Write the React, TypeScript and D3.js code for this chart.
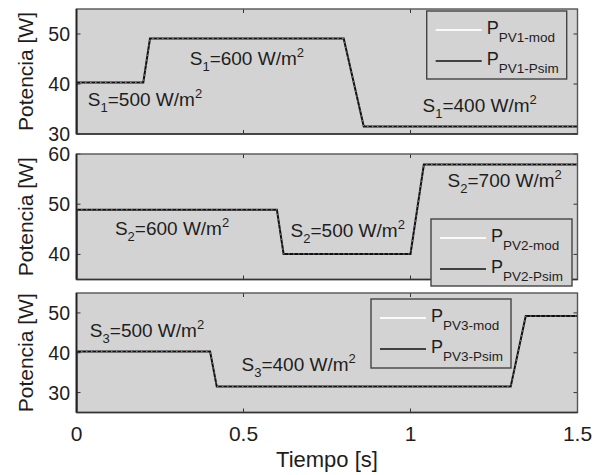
import React from "react";
import * as d3 from "d3";

// Time axis shared by the three panels
const timeDomain = [0, 1.5];
const timeTicks = [0, 0.5, 1, 1.5];
const timeTickLabels = ["0", "0.5", "1", "1.5"];

// PV1 power (W) vs time (s)
const pv1Time = [0, 0, 0.2, 0.22, 0.8, 0.86, 1.5];
const pv1Sim = [0, 40.3, 40.3, 49.1, 49.1, 31.5, 31.5];
const pv1Mod = [0, 40.3, 40.3, 49.1, 49.1, 31.5, 31.5];

// PV2 power (W) vs time (s)
const pv2Time = [0, 0, 0.6, 0.62, 1.0, 1.04, 1.5];
const pv2Sim = [0, 48.9, 48.9, 40.1, 40.1, 57.9, 57.9];
const pv2Mod = [0, 48.9, 48.9, 40.1, 40.1, 57.9, 57.9];

// PV3 power (W) vs time (s)
const pv3Time = [0, 0, 0.4, 0.42, 1.3, 1.345, 1.5];
const pv3Sim = [0, 40.3, 40.3, 31.5, 31.5, 49.2, 49.2];
const pv3Mod = [0, 40.3, 40.3, 31.5, 31.5, 49.2, 49.2];

const yDomains = [
  [30, 55],
  [35, 60],
  [25, 55],
];
const yTicks = [
  [30, 40, 50],
  [40, 50, 60],
  [30, 40, 50],
];

const legendIds = ["PV1", "PV2", "PV3"];
const irradianceName = ["1", "2", "3"];

// Irradiance annotations: [time, power, label value]
const notes1 = [
  [0.034, 35.6, "500"],
  [0.339, 43.8, "600"],
  [1.036, 34.5, "400"],
];
const notes2 = [
  [0.115, 43.9, "600"],
  [0.641, 43.5, "500"],
  [1.111, 53.5, "700"],
];
const notes3 = [
  [0.04, 44.0, "500"],
  [0.494, 35.3, "400"],
];

const W = 595;
const H = 475;
const left = 76.5;
const right = 577.5;
const panelRows = [
  [9, 134],
  [154, 279.5],
  [293, 412.5],
];
const legendBoxes = [
  [426.7, 11, 140, 68],
  [431, 219, 141, 67],
  [371, 299, 140, 69],
];

const FONT = "'Liberation Sans', Arial, Helvetica, sans-serif";
const BG = "#d3d3d3";
const INK = "#1e1e1e";

const seriesSets = [
  { t: pv1Time, sim: pv1Sim, mod: pv1Mod, notes: notes1 },
  { t: pv2Time, sim: pv2Sim, mod: pv2Mod, notes: notes2 },
  { t: pv3Time, sim: pv3Sim, mod: pv3Mod, notes: notes3 },
];

function Note({ x, y, sub, val }: { x: number; y: number; sub: string; val: string }) {
  return (
    <text x={x} y={y} fontFamily={FONT} fontSize={19} fill={INK}>
      S
      <tspan fontSize={13} dy={6}>
        {sub}
      </tspan>
      <tspan dy={-6}>{`=${val} W/m`}</tspan>
      <tspan fontSize={13} dy={-8}>
        2
      </tspan>
    </text>
  );
}

function Panel({ i }: { i: number }) {
  const [top, bottom] = panelRows[i];
  const x = d3.scaleLinear().domain(timeDomain).range([left, right]);
  const y = d3.scaleLinear().domain(yDomains[i]).range([bottom, top]);
  const s = seriesSets[i];
  const line = d3
    .line<number>()
    .x((_, k) => x(s.t[k]))
    .y((v) => y(v));
  const clipId = `clip-${i}`;
  const [lx, ly, lw, lh] = legendBoxes[i];
  const tickLen = 4;
  return (
    <g>
      <defs>
        <clipPath id={clipId}>
          <rect x={left} y={top} width={right - left} height={bottom - top} />
        </clipPath>
      </defs>
      <rect x={left} y={top} width={right - left} height={bottom - top} fill={BG} />
      {/* ticks on all four sides */}
      {timeTicks.map((t) => (
        <g key={`xt${t}`} stroke="#333" strokeWidth={1}>
          <line x1={x(t)} x2={x(t)} y1={bottom} y2={bottom - tickLen} />
          <line x1={x(t)} x2={x(t)} y1={top} y2={top + tickLen} />
        </g>
      ))}
      {yTicks[i].map((v) => (
        <g key={`yt${v}`} stroke="#333" strokeWidth={1}>
          <line x1={left} x2={left + tickLen} y1={y(v)} y2={y(v)} />
          <line x1={right} x2={right - tickLen} y1={y(v)} y2={y(v)} />
        </g>
      ))}
      <g clipPath={`url(#${clipId})`}>
        <path d={line(s.sim) ?? ""} fill="none" stroke="#111" strokeWidth={2} />
        <path
          d={line(s.mod) ?? ""}
          fill="none"
          stroke="#f4f4f4"
          strokeWidth={1}
          strokeDasharray="1.5 3.5"
          opacity={0.5}
        />
      </g>
      {/* axes box */}
      <rect
        x={left}
        y={top}
        width={right - left}
        height={bottom - top}
        fill="none"
        stroke="#555"
        strokeWidth={1.4}
      />
      <line x1={left} x2={left} y1={top} y2={bottom} stroke="#222" strokeWidth={1.8} />
      <line x1={left} x2={right} y1={bottom} y2={bottom} stroke="#333" strokeWidth={1.6} />
      {yTicks[i].map((v) => (
        <text
          key={`yl${v}`}
          x={70}
          y={y(v)}
          dy="0.36em"
          textAnchor="end"
          fontFamily={FONT}
          fontSize={19.5}
          fill={INK}
        >
          {v}
        </text>
      ))}
      <text
        transform={`translate(33,${(top + bottom) / 2}) rotate(-90)`}
        textAnchor="middle"
        fontFamily={FONT}
        fontSize={21}
        fill={INK}
      >
        Potencia [W]
      </text>
      {s.notes.map((n, k) => (
        <Note
          key={k}
          x={x(n[0] as number)}
          y={y(n[1] as number)}
          sub={irradianceName[i]}
          val={n[2] as string}
        />
      ))}
      {/* legend */}
      <rect x={lx} y={ly} width={lw} height={lh} fill={BG} stroke="#444" strokeWidth={1.4} />
      <line x1={lx + 9} x2={lx + 55} y1={ly + 19} y2={ly + 19} stroke="#fafafa" strokeWidth={2} />
      <line x1={lx + 9} x2={lx + 55} y1={ly + 50} y2={ly + 50} stroke="#111" strokeWidth={1.6} />
      {["mod", "Psim"].map((kind, k) => (
        <text
          key={kind}
          x={lx + 60}
          y={ly + 23 + k * 31}
          fontFamily={FONT}
          fontSize={18}
          fill={INK}
        >
          P
          <tspan fontSize={13.5} dy={8}>{`${legendIds[i]}-${kind}`}</tspan>
        </text>
      ))}
    </g>
  );
}

export default function App() {
  const x = d3.scaleLinear().domain(timeDomain).range([left, right]);
  const base = panelRows[2][1];
  return (
    <svg
      width={W}
      height={H}
      viewBox={`0 0 ${W} ${H}`}
      style={{ position: "absolute", left: 0, top: 0, background: "#fff" }}
    >
      {[0, 1, 2].map((i) => (
        <Panel key={i} i={i} />
      ))}
      {timeTicks.map((t, k) => (
        <text
          key={t}
          x={x(t)}
          y={base + 28}
          textAnchor="middle"
          fontFamily={FONT}
          fontSize={21}
          fill={INK}
        >
          {timeTickLabels[k]}
        </text>
      ))}
      <text
        x={(left + right) / 2}
        y={base + 54}
        textAnchor="middle"
        fontFamily={FONT}
        fontSize={22}
        fill={INK}
      >
        Tiempo [s]
      </text>
    </svg>
  );
}
